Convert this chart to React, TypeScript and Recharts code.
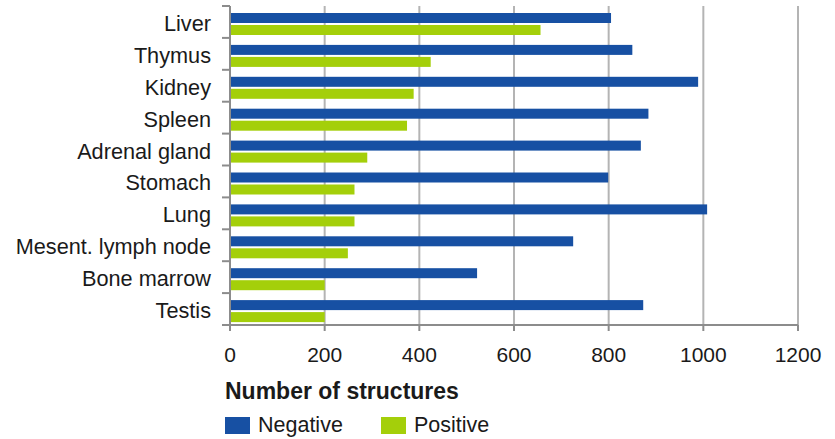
import { Bar, BarChart, CartesianGrid, Legend, XAxis, YAxis } from "recharts";

const organs = [
  "Liver",
  "Thymus",
  "Kidney",
  "Spleen",
  "Adrenal gland",
  "Stomach",
  "Lung",
  "Mesent. lymph node",
  "Bone marrow",
  "Testis",
];
const negative = [805, 850, 989, 884, 868, 799, 1008, 725, 522, 873];
const positive = [656, 424, 388, 374, 290, 263, 263, 249, 200, 200];
const xTicks = [0, 200, 400, 600, 800, 1000, 1200];

const data = organs.map((name, i) => ({
  name,
  Negative: negative[i],
  Positive: positive[i],
}));

const FONT = '"Liberation Sans", Arial, Helvetica, sans-serif';
const BLUE = "#1750a3";
const GREEN = "#a4cf0a";
const AXIS = "#8c8c8c";
const GRID = "#b4b4b4";

const W = 835;
const H = 439;
const TOP = 6;
const XAXIS_H = 44;
const LEGEND_H = 70;
const BAND = (H - TOP - XAXIS_H - LEGEND_H) / organs.length;

function OrganTick(props: any) {
  const { x, y, payload, index } = props;
  const last = index === organs.length - 1;
  return (
    <g>
      <line x1={x - 8} x2={x} y1={y - BAND / 2} y2={y - BAND / 2} stroke={AXIS} strokeWidth={2} />
      {last && (
        <line x1={x - 8} x2={x} y1={y + BAND / 2} y2={y + BAND / 2} stroke={AXIS} strokeWidth={2} />
      )}
      <text x={x - 19} y={y + 9} textAnchor="end" fontSize={21.7} fill="#1a1a1a" fontFamily={FONT}>
        {payload.value}
      </text>
    </g>
  );
}

// bars sit a little below the band centre in the original
function ShiftedBar(props: any) {
  const { x, y, width, height, fill } = props;
  return <rect x={x} y={y + 2} width={width} height={height} fill={fill} />;
}

const legendLeft = [225, 381];

function StructLegend(props: any) {
  const items = props.payload ?? [];
  return (
    <div style={{ position: "relative", height: LEGEND_H, width: W, fontFamily: FONT }}>
      <div
        style={{
          position: "absolute",
          left: 225,
          top: 11,
          fontSize: 23,
          lineHeight: "23px",
          fontWeight: "bold",
          color: "#1a1a1a",
          whiteSpace: "nowrap",
        }}
      >
        Number of structures
      </div>
      {items.map((item: any, i: number) => (
        <div key={item.value} style={{ position: "absolute", left: legendLeft[i], top: 46 }}>
          <span
            style={{
              position: "absolute",
              left: 0,
              top: 2,
              width: 25,
              height: 17,
              background: item.color,
            }}
          />
          <span
            style={{
              position: "absolute",
              left: 33,
              top: 0,
              fontSize: 21.5,
              lineHeight: "21px",
              color: "#1a1a1a",
              whiteSpace: "nowrap",
            }}
          >
            {item.value}
          </span>
        </div>
      ))}
    </div>
  );
}

export default function App() {
  return (
    <div style={{ position: "absolute", left: 0, top: 0, width: W, height: H, background: "#fff" }}>
      <BarChart
        width={W}
        height={H}
        data={data}
        layout="vertical"
        margin={{ top: TOP, right: 37, bottom: 0, left: 0 }}
        barSize={10}
        barGap={2}
      >
        <CartesianGrid horizontal={false} stroke={GRID} strokeWidth={2} />
        <XAxis
          type="number"
          domain={[0, 1200]}
          ticks={xTicks}
          interval={0}
          height={XAXIS_H}
          axisLine={{ stroke: AXIS, strokeWidth: 2 }}
          tickLine={{ stroke: AXIS, strokeWidth: 2 }}
          tickSize={6}
          tickMargin={16}
          tick={{ fontSize: 21, fill: "#1a1a1a", fontFamily: FONT }}
        />
        <YAxis
          type="category"
          dataKey="name"
          width={230}
          interval={0}
          axisLine={{ stroke: AXIS, strokeWidth: 2 }}
          tickLine={false}
          tickSize={0}
          tickMargin={0}
          tick={<OrganTick />}
        />
        <Legend
          verticalAlign="bottom"
          align="left"
          height={LEGEND_H}
          wrapperStyle={{ left: 0, width: W }}
          content={<StructLegend />}
        />
        <Bar dataKey="Negative" fill={BLUE} shape={<ShiftedBar />} isAnimationActive={false} />
        <Bar dataKey="Positive" fill={GREEN} shape={<ShiftedBar />} isAnimationActive={false} />
      </BarChart>
    </div>
  );
}
